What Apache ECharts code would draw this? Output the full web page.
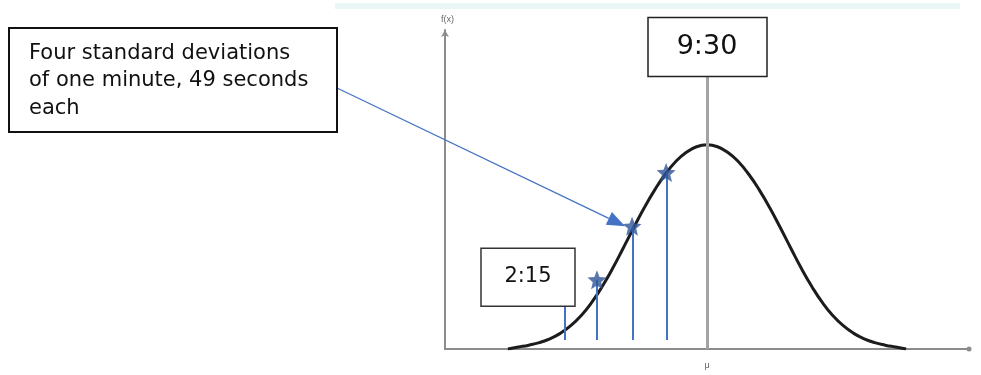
<!DOCTYPE html>
<html>
<head>
<meta charset="utf-8">
<script src="https://cdn.jsdelivr.net/npm/echarts@6/dist/echarts.min.js"></script>
<style>
  html, body { margin: 0; padding: 0; background: #fff; }
  #chart { width: 981px; height: 375px; }
</style>
</head>
<body>
<div id="chart"></div>
<script>
// bell curve (x: 0..100 along the axis, y: height)
var curveX = [12, 14, 16, 18, 20, 22, 24, 26, 28, 30, 32, 34, 36, 38, 40, 42, 44, 46, 48, 50,
  52, 54, 56, 58, 60, 62, 64, 66, 68, 70, 72, 74, 76, 78, 80, 82, 84, 86, 88]
var curveY = [0, 0.6, 1.2, 2.0, 3.2, 4.9, 7.3, 10.5, 14.6, 19.6, 25.3, 31.6, 38.0, 44.2, 49.8, 54.7, 58.7, 61.6, 63.4, 64.0,
  63.4, 61.6, 58.7, 54.7, 49.8, 44.2, 38.0, 31.6, 25.3, 19.6, 14.6, 10.5, 7.3, 4.9, 3.2, 2.0, 1.2, 0.6, 0]
// stars and the blue stems under them
var starX = [29, 35.7, 42.2]
var starY = [21.7, 38.5, 55.3]
var stemX = [22.9, 29, 35.9, 42.4]
var stemTop = [13.4, 21.7, 38.5, 55.3]
var stemBottom = 2.8
var meanX = 50
var meanTop = 85.4
var meanLabel = '9:30'
var firstLabel = '2:15'
var noteLines = ['Four standard deviations', 'of one minute, 49 seconds', 'each']

var chart = echarts.init(document.getElementById('chart'))

var stemLines = stemX.map(function (x, i) {
  return [{ coord: [x, stemTop[i]] }, { coord: [x, stemBottom] }]
})

var option = {
  animation: false,
  grid: { left: 445, right: 12, top: 30, bottom: 23 },
  xAxis: {
    type: 'value', min: 0, max: 100,
    name: 'μ', nameLocation: 'middle', nameGap: 12,
    nameTextStyle: { color: '#666', fontSize: 9 },
    axisLine: { lineStyle: { color: '#8c8c8c', width: 2 }, symbol: ['none', 'circle'], symbolSize: [5, 5] },
    axisTick: { show: false }, axisLabel: { show: false }, splitLine: { show: false }
  },
  yAxis: {
    type: 'value', min: 0, max: 100,
    name: 'f(x)', nameGap: 6,
    nameTextStyle: { color: '#666', fontSize: 9, align: 'left', padding: [0, 0, 0, -4] },
    axisLine: { show: true, lineStyle: { color: '#8c8c8c', width: 2 }, symbol: ['none', 'arrow'], symbolSize: [6, 7] },
    axisTick: { show: false }, axisLabel: { show: false }, splitLine: { show: false }
  },
  series: [
    {
      type: 'line',
      data: curveX.map(function (x, i) { return [x, curveY[i]] }),
      smooth: 0.5, symbol: 'none',
      lineStyle: { color: '#1c1c1c', width: 3 },
      z: 3,
      markLine: {
        silent: true, symbol: 'none', label: { show: false },
        lineStyle: { color: '#a3a3a3', width: 3, type: 'solid' },
        data: [[{ coord: [meanX, meanTop] }, { coord: [meanX, 0] }]]
      }
    },
    {
      type: 'line',
      data: [],
      markLine: {
        silent: true, symbol: 'none', label: { show: false },
        lineStyle: { color: '#4472c4', width: 2, type: 'solid' },
        data: stemLines
      }
    },
    {
      type: 'scatter',
      data: starX.map(function (x, i) { return [x, starY[i]] }),
      symbol: 'path://M50,0 L62.9,32.2 L97.6,34.5 L70.9,56.8 L79.4,90.5 L50,72 L20.6,90.5 L29.1,56.8 L2.4,34.5 L37.1,32.2 Z',
      symbolSize: 19,
      itemStyle: { color: '#2f5597' },
      z: 5
    }
  ]
}
chart.setOption(option)

// annotation boxes and the arrow, placed from the data positions
var meanPx = chart.convertToPixel({ gridIndex: 0 }, [meanX, meanTop])
var firstPx = chart.convertToPixel({ gridIndex: 0 }, [stemX[0], stemTop[0]])
var tipPx = chart.convertToPixel({ gridIndex: 0 }, [starX[1], starY[1]])
tipPx = [tipPx[0] - 7, tipPx[1]]
var start = [337, 88]
var ang = Math.atan2(tipPx[1] - start[1], tipPx[0] - start[0])
var hl = 18, hw = 7
var base = [tipPx[0] - hl * Math.cos(ang), tipPx[1] - hl * Math.sin(ang)]
var head = [
  tipPx,
  [base[0] + hw * Math.sin(ang), base[1] - hw * Math.cos(ang)],
  [base[0] - hw * Math.sin(ang), base[1] + hw * Math.cos(ang)]
]

var noteText = noteLines.map(function (t, i) {
  return {
    type: 'text', x: 29, y: 53.5 + i * 27.5, z: 11,
    style: { text: t, fill: '#111', font: '21px "DejaVu Sans"', align: 'left', verticalAlign: 'middle' }
  }
})

chart.setOption({
  graphic: [
    { type: 'rect', shape: { x: 335, y: 3, width: 625, height: 6 }, style: { fill: '#eaf6f6' }, silent: true },
    {
      type: 'rect', shape: { x: meanPx[0] - 59, y: meanPx[1] - 59, width: 119, height: 59 },
      style: { fill: '#fff', stroke: '#222', lineWidth: 1.5 }, z: 10
    },
    {
      type: 'text', x: meanPx[0], y: meanPx[1] - 29.5, z: 11,
      style: { text: meanLabel, fill: '#111', font: '27px "DejaVu Sans"', align: 'center', verticalAlign: 'middle' }
    },
    {
      type: 'rect', shape: { x: firstPx[0] - 84, y: firstPx[1] - 58, width: 94, height: 58 },
      style: { fill: '#fff', stroke: '#333', lineWidth: 1.5 }, z: 10
    },
    {
      type: 'text', x: firstPx[0] - 37, y: firstPx[1] - 30, z: 11,
      style: { text: firstLabel, fill: '#111', font: '21px "DejaVu Sans"', align: 'center', verticalAlign: 'middle' }
    },
    {
      type: 'rect', shape: { x: 9, y: 28, width: 328, height: 104 },
      style: { fill: '#fff', stroke: '#111', lineWidth: 2 }, z: 10
    }
  ].concat(noteText).concat([
    {
      type: 'line', shape: { x1: start[0], y1: start[1], x2: base[0], y2: base[1] },
      style: { stroke: '#4472c4', lineWidth: 1.2 }, z: 9
    },
    {
      type: 'polygon', shape: { points: head }, style: { fill: '#4472c4' }, z: 9
    }
  ])
})
</script>
</body>
</html>
